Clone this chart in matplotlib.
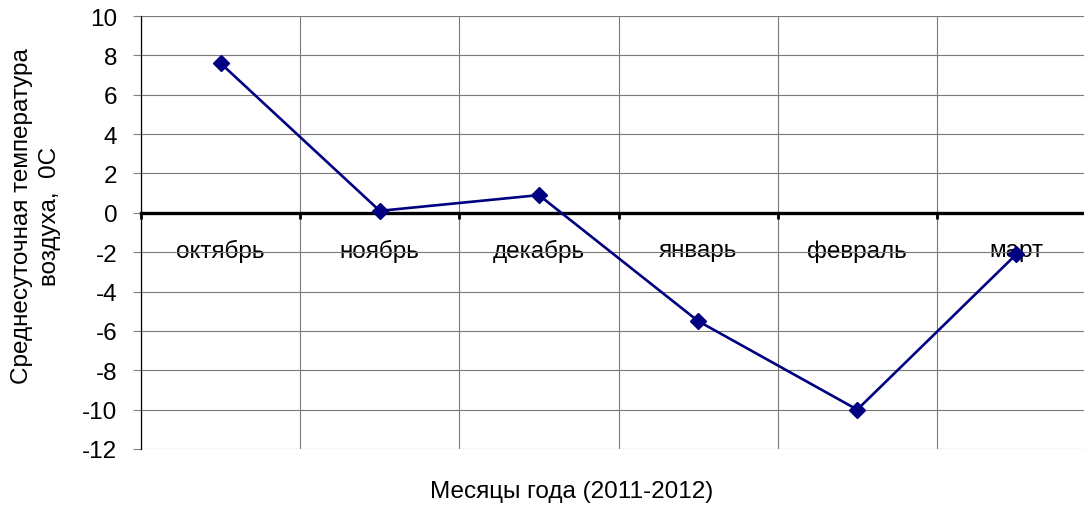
import matplotlib
matplotlib.use("Agg")
from matplotlib import pyplot as plt
import numpy as np

months = ["октябрь", "ноябрь", "декабрь", "январь", "февраль", "март"]
temps = [7.6, 0.1, 0.9, -5.5, -10.0, -2.1]
y_ticks = list(range(-12, 11, 2))

plt.rcParams['font.family'] = ['Liberation Sans', 'DejaVu Sans']
FS = 17.5

W, H = 1084, 506
fig = plt.figure(figsize=(W / 100, H / 100), dpi=100)
# plot area runs a bit past the right edge of the picture, like the original
ax = fig.add_axes([141 / W, 1 - 450 / H, 955 / W, 433 / H])

x = np.arange(len(months))
ax.plot(x, temps, color='#000080', lw=1.9, marker='D', ms=8.5, zorder=5, clip_on=False)

ax.set_xlim(-0.5, len(months) - 0.5)
ax.set_ylim(-12, 10)
ax.set_yticks(y_ticks)
ax.set_yticklabels([str(v) for v in y_ticks], fontsize=FS)
ax.tick_params(axis='y', direction='out', length=6, width=0.8, color='#808080', pad=11)

# category axis sits on zero
ax.spines['bottom'].set_position(('data', 0))
ax.spines['bottom'].set_linewidth(2.4)
ax.spines['top'].set_visible(False)
ax.spines['right'].set_visible(False)
ax.spines['left'].set_linewidth(0.9)
ax.set_xticks(x)
ax.set_xticklabels(months, fontsize=FS)
ax.tick_params(axis='x', which='major', length=0, pad=19)
ax.set_xticks(np.arange(-0.5, len(months)), minor=True)
ax.tick_params(axis='x', which='minor', direction='out', length=4, width=2)

ax.grid(True, axis='y', color='#7a7a7a', lw=0.8)
ax.grid(True, axis='x', which='minor', color='#7a7a7a', lw=0.8)
ax.set_axisbelow(True)

fig.text(36 / W, 1 - 216 / H, "Среднесуточная температура\nвоздуха,  0С",
         rotation=90, ha='center', va='center', multialignment='center',
         fontsize=FS, linespacing=1.3)
fig.text(572 / W, 1 - 492 / H, "Месяцы года (2011-2012)", ha='center', va='center', fontsize=FS)

fig.savefig("out.png", dpi=100)
